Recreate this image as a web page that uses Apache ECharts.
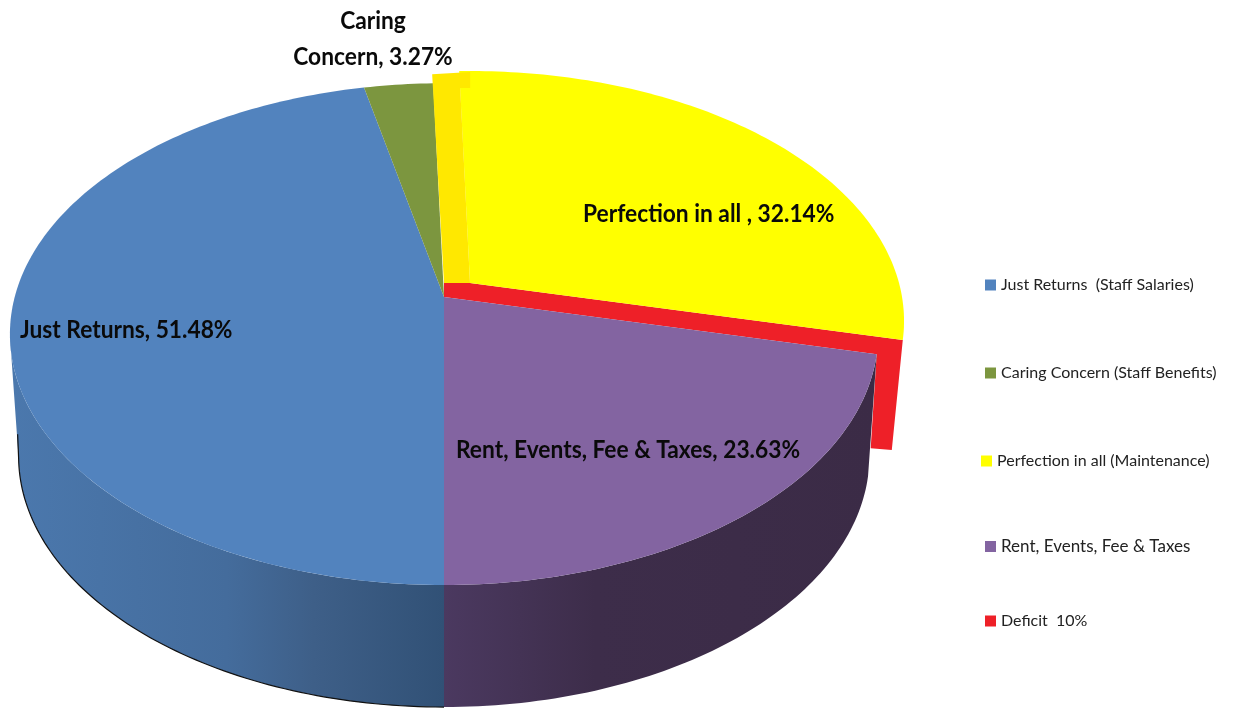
<!DOCTYPE html>
<html>
<head>
<meta charset="utf-8">
<style>
  html, body { margin: 0; padding: 0; background: #fff; }
  #chart { width: 1233px; height: 710px; }
</style>
<script src="https://cdn.jsdelivr.net/npm/echarts@6/dist/echarts.min.js"></script>
</head>
<body>
<div id="chart"></div>
<script>
// data
var sliceNames = ['Just Returns', 'Caring Concern', 'Perfection in all', 'Rent, Events, Fee & Taxes'];
var sliceValues = [51.48, 3.27, 32.14, 23.63];
var legendNames = ['Just Returns  (Staff Salaries)', 'Caring Concern (Staff Benefits)', 'Perfection in all (Maintenance)', 'Rent, Events, Fee & Taxes', 'Deficit  10%'];
var sliceLabels = ['Just Returns, 51.48%', 'Caring\nConcern, 3.27%', 'Perfection in all , 32.14%', 'Rent, Events, Fee & Taxes, 23.63%'];
var colors = ['#5283BE', '#7C963F', '#FFFF00', '#8364A1', '#EE2028'];

// layout
var legendLeft = [985, 985, 981, 985, 985];
var legendTop = [277, 365, 453, 538, 613];
var legendSize = [16, 16, 16, 17, 16];
var labelX = [20, 373, 583, 456];
var labelY = [330, 57, 214, 450];
var labelAlign = ['left', 'center', 'left', 'left'];
var labelFont = 'bold 24px Lato, "Liberation Sans", sans-serif';
var labelScaleX = 0.948;

// pie is a circle seen in perspective, apex sits above the ellipse centre
var cx = 444, cy = 297;
var view = { S: 429.3, T: 245.4, K: 0.148 };
var yellowView = { S: 429, T: 244.2, K: 0.152 }; // exploded slice sits a bit flatter
var depth = 122, bottomScale = 0.98;
var explode = [26, -14]; // yellow slice
var startAngle = 180;
var leftTangent = 261; // angle where the rim is furthest left

var total = sliceValues.reduce(function (a, b) { return a + b; }, 0);
var angles = [startAngle];
sliceValues.forEach(function (v, i) { angles.push(angles[i] + v / total * 360); });

function rim(deg, dx, dy, v) {
  v = v || view;
  var r = deg * Math.PI / 180;
  var w = 1 + v.K * Math.cos(r);
  return [cx + v.S * Math.sin(r) / w + (dx || 0), cy - v.T * Math.cos(r) / w + (dy || 0)];
}
function lowerRim(deg) {
  var p = rim(deg);
  return [cx + (p[0] - cx) * bottomScale, p[1] + depth];
}
function arc(a0, a1, fn, dx, dy, v) {
  var pts = [], n = Math.ceil(Math.abs(a1 - a0));
  for (var i = 0; i <= n; i++) pts.push(fn(a0 + (a1 - a0) * i / n, dx, dy, v));
  return pts;
}
function sector(i, dx, dy, v) {
  return [[cx + (dx || 0), cy + (dy || 0)]].concat(arc(angles[i], angles[i + 1], rim, dx, dy, v));
}
function wall(a0, a1) {
  return arc(a0, a1, rim).concat(arc(a1, a0, lowerRim));
}
function gradient(stops) {
  return { type: 'linear', x: 0, y: 0, x2: 1, y2: 0, colorStops: stops };
}
function poly(points, fill) {
  return { type: 'polygon', shape: { points: points }, style: { fill: fill } };
}
function label(i) {
  var lines = sliceLabels[i].split('\n');
  return lines.map(function (t, n) {
    return {
      type: 'text',
      x: labelX[i], y: labelY[i] + (n - lines.length + 1) * 36,
      scaleX: labelScaleX,
      style: {
        text: t, font: labelFont, fill: '#0a0a0a', textAlign: labelAlign[i], textVerticalAlign: 'middle'
      }
    };
  });
}

var drawers = [
  // blue
  function () {
    var edge = arc(angles[0], leftTangent, lowerRim);
    var last = edge[edge.length - 1];
    edge.push([last[0] - 1, last[1] - 24]);
    return [
      poly(wall(angles[0], leftTangent), gradient([
        { offset: 0, color: '#4B78AD' }, { offset: 0.5, color: '#446C9C' },
        { offset: 0.7, color: '#3E5F88' }, { offset: 1, color: '#315176' }
      ])),
      { type: 'polyline', shape: { points: edge }, style: { fill: null, stroke: '#111', lineWidth: 1.2 } },
      poly(sector(0), colors[0])
    ].concat(label(0));
  },
  // green
  function () { return [poly(sector(1), colors[1])].concat(label(1)); },
  // yellow, with the darker strip closing the gap left by exploding it
  function () {
    var a = angles[2], p0 = rim(a), p1 = rim(a, explode[0], explode[1], yellowView);
    return [
      poly(sector(2, explode[0], explode[1], yellowView), colors[2]),
      poly([
        [cx, cy + explode[1]], [p0[0] - 1, p0[1] - 9], [p1[0] + 11, p1[1] + 1],
        [p1[0] + 11, p1[1] + 17], [p1[0] + 1, p1[1] + 17], [cx + explode[0], cy + explode[1]]
      ], '#FFE800')
    ].concat(label(2));
  },
  // purple
  function () {
    return [
      poly(wall(angles[3], angles[4]), gradient([
        { offset: 0, color: '#4B3960' }, { offset: 0.35, color: '#3D2D4A' }, { offset: 1, color: '#3B2B46' }
      ])),
      poly(sector(3), colors[3])
    ].concat(label(3));
  },
  // deficit band, sits behind purple and yellow
  function () {
    var a = angles[3], outer = rim(a, explode[0], explode[1], yellowView), inner = rim(a);
    return [poly([
      [cx, cy + explode[1]], [cx + explode[0], cy + explode[1]], outer,
      [outer[0] - 11, outer[1] + 110], [inner[0] - 6, inner[1] + 94], inner, [cx, cy]
    ], colors[4])];
  }
];
var zOrder = [3, 4, 5, 3, 2];

var myChart = echarts.init(document.getElementById('chart'), null, { renderer: 'canvas' });
myChart.setOption({
  animation: false,
  backgroundColor: '#fff',
  legend: legendNames.map(function (name, i) {
    return {
      data: [name], left: legendLeft[i], top: legendTop[i], padding: 0,
      icon: 'rect', itemWidth: 11, itemHeight: 11, selectedMode: false,
      textStyle: { fontFamily: 'Lato, "Liberation Sans", sans-serif', fontSize: legendSize[i], color: '#222' }
    };
  }),
  series: legendNames.map(function (name, i) {
    return {
      type: 'custom', name: name, coordinateSystem: 'none', silent: true, z: zOrder[i],
      itemStyle: { color: colors[i] },
      data: [i < 4 ? sliceValues[i] : 10],
      renderItem: function () { return { type: 'group', children: drawers[i]() }; }
    };
  })
});
</script>
</body>
</html>
